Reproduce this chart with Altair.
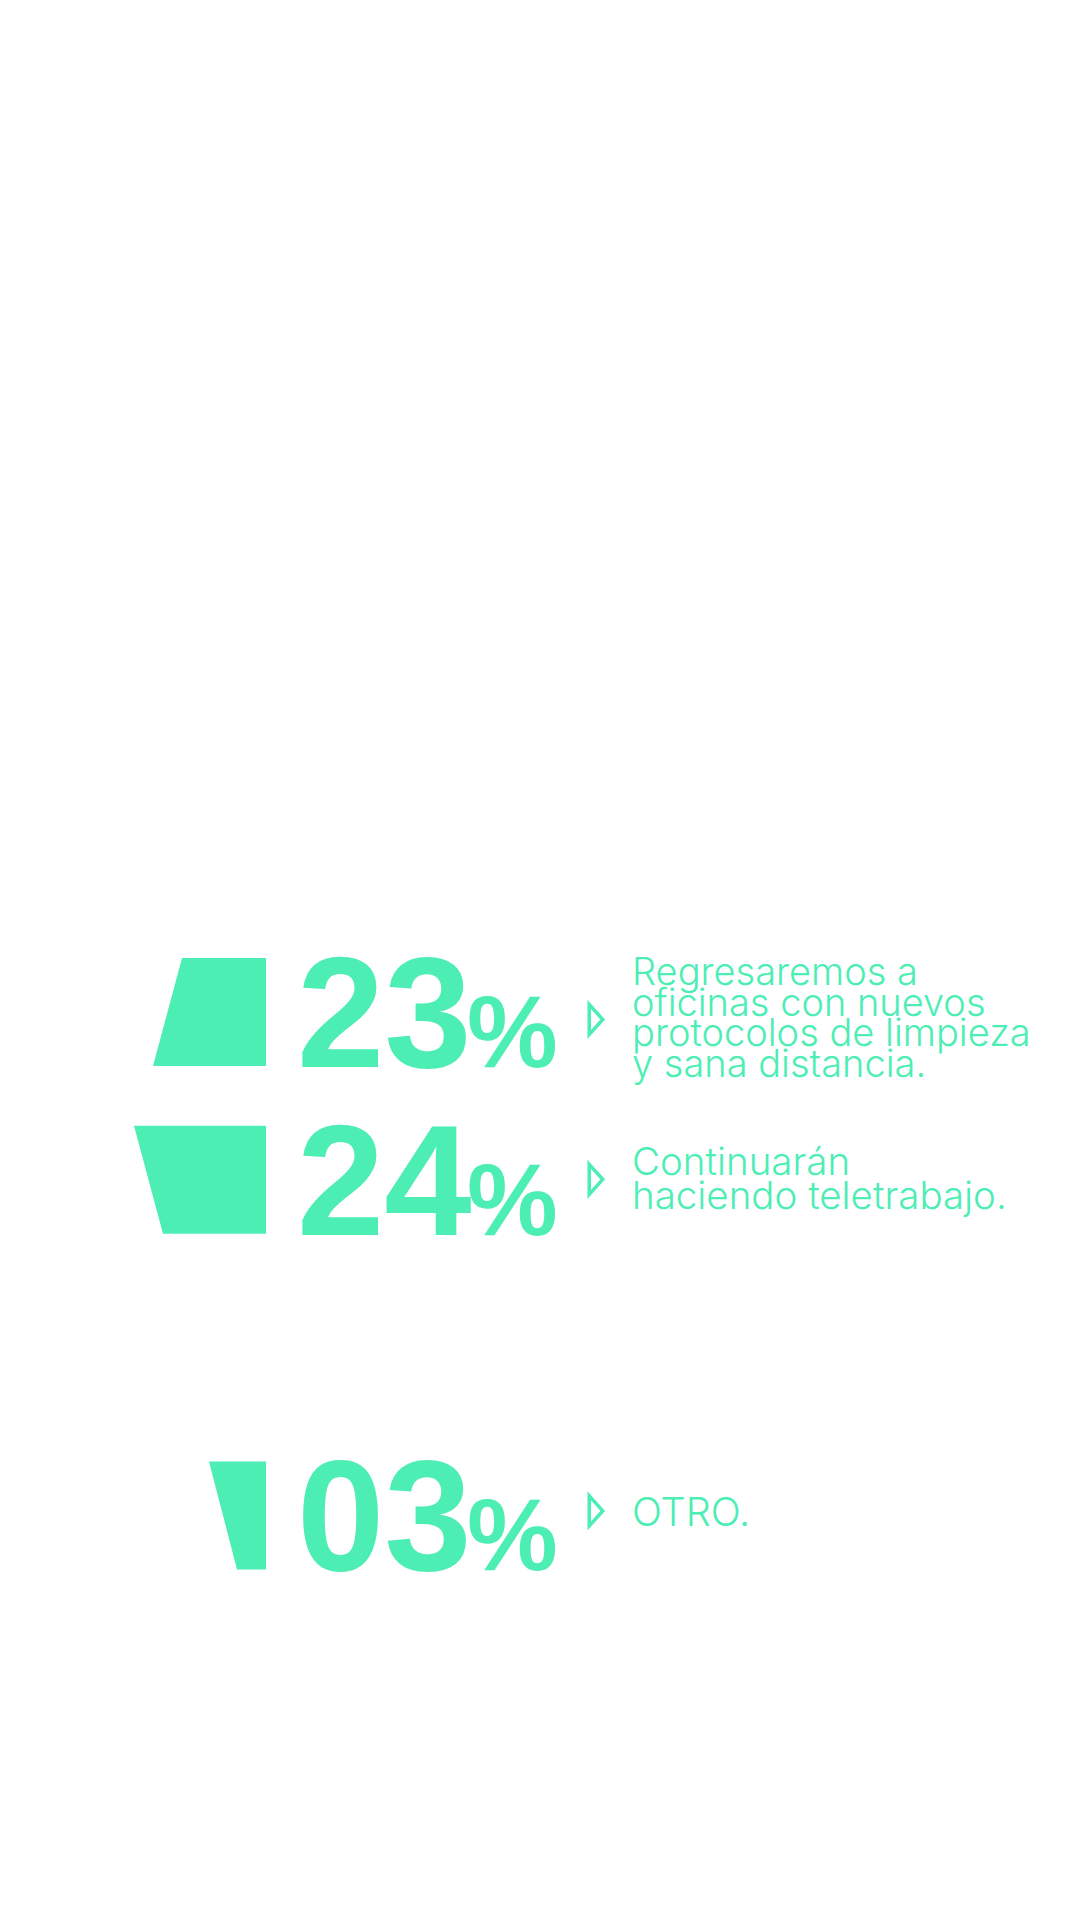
import altair as alt
import pandas as pd

COLOR = "#4CEEB4"

# ---- data ----
value_labels = ["23", "24", "03"]
values = [23, 24, 3]
descriptions = [
    "Regresaremos a\noficinas con nuevos\nprotocolos de limpieza\ny sana distancia.",
    "Continuarán\nhaciendo teletrabajo.",
    "OTRO.",
]
# trapezoid edge widths (shape units), top edge and bottom edge
top_widths = [84, 132, 57]
bottom_widths = [113, 103, 29]

# ---- layout (not data) ----
LAYOUT = ["23", "24", None, "03"]  # third slot is empty in the design
ROW_H = 0.644  # shape height in slot units

slots = [LAYOUT.index(l) for l in value_labels]
rows = pd.DataFrame({
    "row": list(range(len(values))),
    "label": value_labels,
    "value": values,
    "desc": descriptions,
    "slot": slots,
})

recs = []
for r, s, tw, bw in zip(range(len(values)), slots, top_widths, bottom_widths):
    recs.append({"row": r, "y": s - ROW_H / 2, "w": -tw, "edge": 0})
    recs.append({"row": r, "y": s + ROW_H / 2, "w": -bw, "edge": 0})
shapes = pd.DataFrame(recs)

xs = alt.Scale(domain=[-266, 815], nice=False, zero=False)
ys = alt.Scale(domain=[-6.031, 5.417], nice=False, zero=False, reverse=True)

area = alt.Chart(shapes).mark_area(orient="horizontal", color=COLOR, opacity=1).encode(
    y=alt.Y("y:Q", scale=ys, axis=None),
    x=alt.X("w:Q", scale=xs, axis=None),
    x2=alt.X2("edge:Q"),
    detail="row:N",
)

base = alt.Chart(rows).transform_calculate(edge="0")

nums = base.mark_text(
    align="left", baseline="alphabetic", font="Liberation Sans", fontWeight="bold",
    fontSize=157, dx=31, dy=55, color=COLOR,
).encode(
    x=alt.X("edge:Q", scale=xs, axis=None),
    y=alt.Y("slot:Q", scale=ys, axis=None),
    text="label:N",
)

pct = base.mark_text(
    align="left", baseline="alphabetic", font="Liberation Sans", fontWeight="bold",
    fontSize=102, dx=201, dy=55, color=COLOR, text="%",
).encode(
    x=alt.X("edge:Q", scale=xs, axis=None),
    y=alt.Y("slot:Q", scale=ys, axis=None),
)

# per-row style: fontSize, lineHeight, first-baseline offset, triangle offset
styles = [(38, 30.5, -27, 7.5), (38.5, 34, -5, -0.5), (39.5, 40, 10.5, -4.5)]
layers = [area, nums, pct]
for i, (fs, lh, dy, toff) in enumerate(styles):
    sub = base.transform_filter(alt.datum.row == i)
    layers.append(
        sub.mark_text(
            align="left", baseline="alphabetic", font="Inter", fontWeight=300,
            fontSize=fs, lineHeight=lh, lineBreak="\n", dx=366, dy=dy, color=COLOR,
        ).encode(
            x=alt.X("edge:Q", scale=xs, axis=None),
            y=alt.Y("slot:Q", scale=ys, axis=None),
            text="desc:N",
        )
    )
    layers.append(
        sub.mark_point(
            shape="M-0.45,-1L0.45,0L-0.45,1Z", size=900, filled=False,
            strokeWidth=3.5, color=COLOR, opacity=1, xOffset=330, yOffset=toff,
        ).encode(
            x=alt.X("edge:Q", scale=xs, axis=None),
            y=alt.Y("slot:Q", scale=ys, axis=None),
        )
    )

chart = alt.layer(*layers).properties(
    width=1081, height=1921, padding=0,
    autosize=alt.AutoSizeParams(type="none"),
    background="white",
).configure_view(stroke=None)

chart.save("out.html", embed_options={"renderer": "svg", "actions": False})
